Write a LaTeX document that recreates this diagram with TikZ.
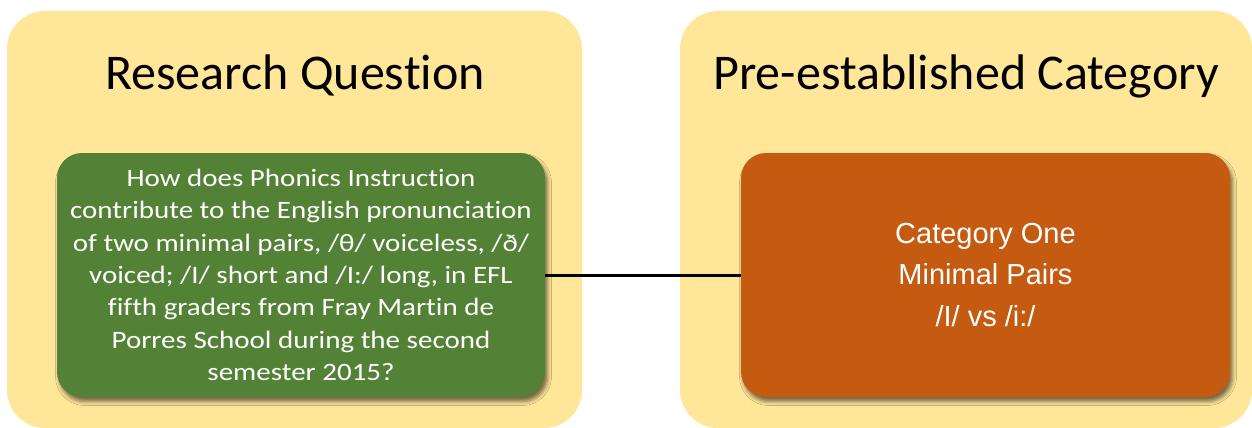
\documentclass[tikz,border=0pt]{standalone}
\usepackage{fontspec}
\setmainfont{Carlito}[Ligatures=NoCommon]
\newfontfamily\greenfont{Carlito}[FakeStretch=1.16,Ligatures=NoCommon]
\newfontfamily\arialfont{Liberation Sans}
\usetikzlibrary{shadows.blur}
\definecolor{panelyellow}{HTML}{FFE699}
\definecolor{qgreen}{HTML}{538135}
\definecolor{corange}{HTML}{C55A11}
\tikzset{
  panel/.style={fill=panelyellow, rounded corners=38pt, minimum width=575pt, minimum height=417pt, inner sep=0pt},
  titletext/.style={font=\fontsize{50}{60}\selectfont, anchor=base, inner sep=0pt},
  innerbox/.style={rounded corners=25pt, minimum width=488pt, minimum height=244pt, text=white, align=center, inner sep=0pt,
    blur shadow={shadow xshift=2.5pt, shadow yshift=-4.5pt, shadow blur radius=4pt, shadow opacity=55}},
  link/.style={draw=black, line width=3pt}
}
\begin{document}
\begin{tikzpicture}[x=1pt,y=-1pt]
\useasboundingbox (0,0) rectangle (1252,428);
\node[panel] (lp) at (294.5,219.5) {};
\node[panel, minimum width=572pt] (rp) at (966,219.5) {};
\node[titletext] (lt) at (295,89.3) {Research Question};
\node[titletext] (rt) at (966,89.3) {Pre-established Category};
\node[innerbox, fill=qgreen, font=\greenfont\fontsize{25}{32.3}\selectfont] (q) at (301,275)
  {How does Phonics Instruction\\contribute to the English pronunciation\\of two minimal pairs, /θ/ voiceless, /ð/\\voiced; /I/ short and /I:/ long, in EFL\\fifth graders from Fray Martin de\\Porres School during the second\\semester 2015?};
\node[innerbox, fill=corange, minimum width=489pt, font=\arialfont\fontsize{29}{41.7}\selectfont] (c) at (985.5,275)
  {Category One\\Minimal Pairs\\/I/ vs /i:/};
\draw[link] (q.east) -- (c.west);
\end{tikzpicture}
\end{document}
